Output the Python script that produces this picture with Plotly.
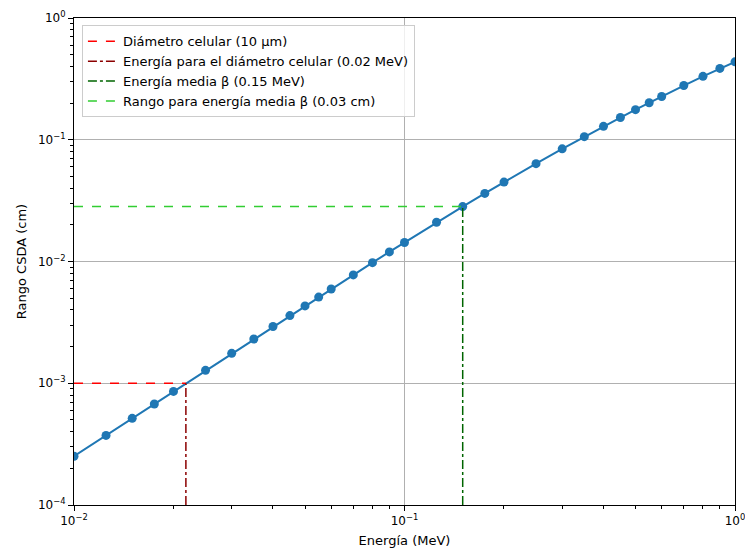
import numpy as np
import plotly.graph_objects as go

# Electron CSDA range in water (ESTAR-like)
energia = [0.01, 0.0125, 0.015, 0.0175, 0.02, 0.025, 0.03, 0.035, 0.04, 0.045,
           0.05, 0.055, 0.06, 0.07, 0.08, 0.09, 0.1, 0.125, 0.15, 0.175, 0.2,
           0.25, 0.3, 0.35, 0.4, 0.45, 0.5, 0.55, 0.6, 0.7, 0.8, 0.9, 1.0]
rango = [2.515e-4, 3.728e-4, 5.147e-4, 6.761e-4, 8.573e-4, 1.276e-3, 1.761e-3,
         2.311e-3, 2.922e-3, 3.593e-3, 4.320e-3, 5.104e-3, 5.940e-3, 7.765e-3,
         9.785e-3, 1.199e-2, 1.431e-2, 2.100e-2, 2.825e-2, 3.623e-2, 4.488e-2,
         6.365e-2, 8.421e-2, 1.060e-1, 1.288e-1, 1.523e-1, 1.766e-1, 2.015e-1,
         2.268e-1, 2.787e-1, 3.317e-1, 3.853e-1, 4.367e-1]

x_ticks = [0.01, 0.1, 1.0]
x_ticktext = ["10<sup>−2</sup>", "10<sup>−1</sup>", "10<sup>0</sup>"]
y_ticks = [1e-4, 1e-3, 1e-2, 1e-1, 1.0]
y_ticktext = ["10<sup>−4</sup>", "10<sup>−3</sup>", "10<sup>−2</sup>", "10<sup>−1</sup>", "10<sup>0</sup>"]

diametro_cm = 1e-3          # 10 µm
energia_media = 0.15        # MeV
x_min, x_max = 0.01, 1.0
y_min, y_max = 1e-4, 1.0

le = np.log10(energia)
lr = np.log10(rango)
e_diam = 10 ** np.interp(np.log10(diametro_cm), lr, le)
r_media = 10 ** np.interp(np.log10(energia_media), le, lr)


def minor_vals(lo_exp, hi_exp):
    return [m * 10.0 ** e for e in range(lo_exp, hi_exp) for m in range(2, 10)]


FONT = "DejaVu Sans"
fig = go.Figure()

fig.add_trace(go.Scatter(x=energia, y=rango, mode="lines+markers",
                         line=dict(color="#1f77b4", width=2),
                         marker=dict(color="#1f77b4", size=9),
                         showlegend=False))

fig.add_trace(go.Scatter(x=[x_min, e_diam], y=[diametro_cm, diametro_cm], mode="lines",
                         line=dict(color="red", width=1.5, dash="dash"),
                         name="Diámetro celular (10 µm)"))
fig.add_trace(go.Scatter(x=[e_diam, e_diam], y=[y_min, diametro_cm], mode="lines",
                         line=dict(color="darkred", width=1.5, dash="dashdot"),
                         name="Energía para el diámetro celular (0.02 MeV)"))
fig.add_trace(go.Scatter(x=[energia_media, energia_media], y=[y_min, r_media], mode="lines",
                         line=dict(color="darkgreen", width=1.5, dash="dashdot"),
                         name="Energía media β (0.15 MeV)"))
fig.add_trace(go.Scatter(x=[x_min, energia_media], y=[r_media, r_media], mode="lines",
                         line=dict(color="limegreen", width=1.5, dash="dash"),
                         name="Rango para energía media β (0.03 cm)"))

axis_common = dict(
    type="log", tickmode="array",
    showline=True, linecolor="black", linewidth=1, mirror=True,
    ticks="outside", ticklen=5, tickcolor="black", tickwidth=1,
    showgrid=True, gridcolor="#b0b0b0", gridwidth=1,
    zeroline=False, automargin=False, ticklabeloverflow="allow",
    tickfont=dict(family=FONT, size=12, color="black"),
)

fig.update_xaxes(range=[np.log10(x_min), np.log10(x_max)],
                 tickvals=x_ticks, ticktext=x_ticktext,
                 minor=dict(tickmode="array", tickvals=minor_vals(-2, 0), ticks="outside",
                            ticklen=3, tickcolor="black", showgrid=False),
                 title=dict(text="Energía (MeV)", font=dict(family=FONT, size=13, color="black"), standoff=8),
                 **axis_common)
fig.update_yaxes(range=[np.log10(y_min), np.log10(y_max)],
                 tickvals=y_ticks, ticktext=y_ticktext,
                 minor=dict(tickmode="array", tickvals=minor_vals(-4, 0), ticks="outside",
                            ticklen=3, tickcolor="black", showgrid=False),
                 title=dict(text="Rango CSDA (cm)", font=dict(family=FONT, size=13, color="black"), standoff=8),
                 **axis_common)

fig.update_layout(
    width=745, height=552,
    margin=dict(l=74, r=10, t=18, b=47),
    paper_bgcolor="white", plot_bgcolor="white",
    font=dict(family=FONT, size=13, color="black"),
    legend=dict(x=0.012, y=0.985, xanchor="left", yanchor="top",
                bgcolor="rgba(255,255,255,0.8)", bordercolor="#cccccc", borderwidth=1,
                font=dict(family=FONT, size=13, color="black"),
                tracegroupgap=0, itemwidth=30),
)

fig.write_html("out.html")
